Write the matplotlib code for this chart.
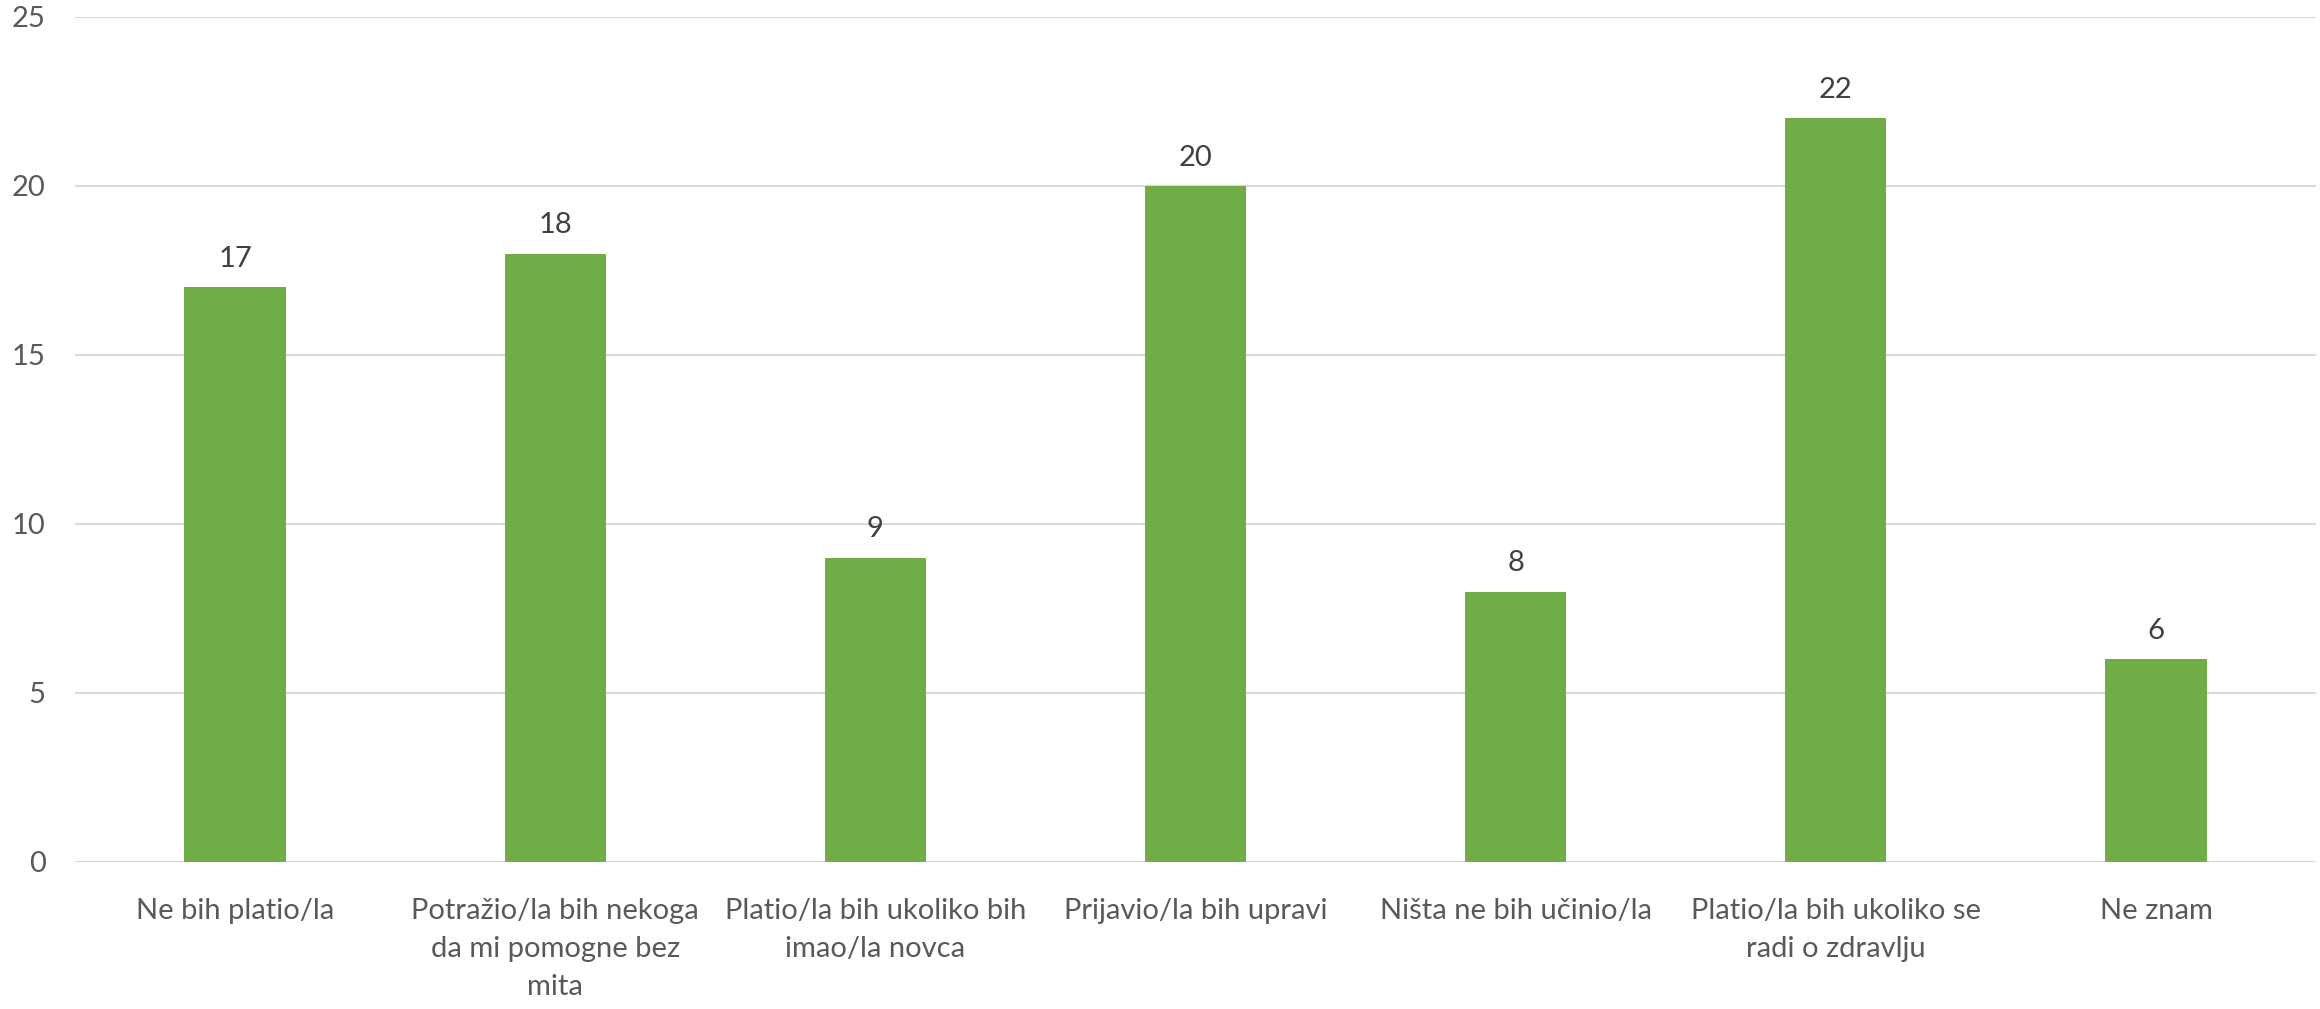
import matplotlib.pyplot as plt

# Podaci
kategorije = [
    "Ne bih platio/la",
    "Potražio/la bih nekoga\nda mi pomogne bez\nmita",
    "Platio/la bih ukoliko bih\nimao/la novca",
    "Prijavio/la bih upravi",
    "Ništa ne bih učinio/la",
    "Platio/la bih ukoliko se\nradi o zdravlju",
    "Ne znam",
]
vrijednosti = [17, 18, 9, 20, 8, 22, 6]
y_ticks = [0, 5, 10, 15, 20, 25]

plt.rcParams["font.family"] = ["Lato", "DejaVu Sans"]

fig = plt.figure(figsize=(23.2, 10.09), dpi=100)
ax = fig.add_axes([0.0323, 0.1457, 0.9660, 0.8375])

x = list(range(len(kategorije)))
bars = ax.bar(x, vrijednosti, width=0.316, color="#70AD47", zorder=3)

for xi, v in zip(x, vrijednosti):
    ax.annotate(str(v), (xi, v), textcoords="offset points", xytext=(0, 11),
                ha="center", va="bottom", fontsize=21, color="#404040")

ax.set_xlim(-0.5, len(kategorije) - 0.5)
ax.set_ylim(0, 25)
ax.set_yticks(y_ticks)
ax.set_xticks(x)
ax.set_xticklabels(kategorije, fontsize=21, color="#595959", linespacing=1.56)
ax.tick_params(axis="y", length=0, pad=21, labelsize=21, labelcolor="#595959")
ax.tick_params(axis="x", length=0, pad=26)

ax.grid(axis="y", color="#D9D9D9", linewidth=1.5, zorder=0)
for s in ["top", "right", "left", "bottom"]:
    ax.spines[s].set_visible(False)

fig.savefig("out.png", dpi=100)
